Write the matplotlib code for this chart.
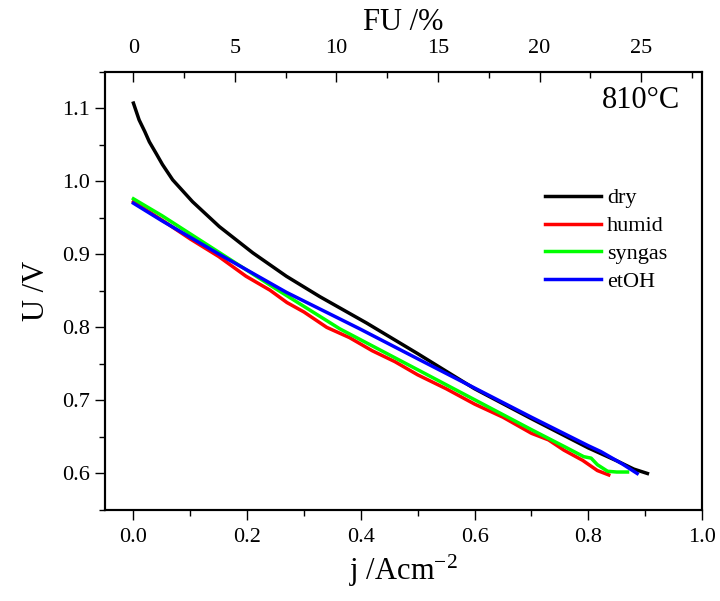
import matplotlib
matplotlib.use("Agg")
import matplotlib.pyplot as plt
from matplotlib.ticker import MultipleLocator

plt.rcParams["font.family"] = ["Liberation Serif", "DejaVu Serif"]
plt.rcParams["mathtext.default"] = "regular"

# current density j (A/cm2) and cell voltage U (V) per fuel
dry_j = [0.000, 0.010, 0.020, 0.028, 0.040, 0.051, 0.069, 0.104, 0.151, 0.210,
         0.269, 0.328, 0.410, 0.500, 0.600, 0.700, 0.800, 0.851, 0.880, 0.904]
dry_u = [1.107, 1.084, 1.068, 1.054, 1.038, 1.023, 1.002, 0.972, 0.938, 0.902,
         0.870, 0.842, 0.806, 0.764, 0.716, 0.675, 0.635, 0.617, 0.606, 0.600]

humid_j = [0.000, 0.050, 0.100, 0.150, 0.198, 0.240, 0.270, 0.300, 0.340, 0.380,
           0.420, 0.460, 0.500, 0.550, 0.600, 0.650, 0.700, 0.730, 0.757, 0.790,
           0.816, 0.836]
humid_u = [0.972, 0.947, 0.921, 0.897, 0.870, 0.851, 0.834, 0.821, 0.800, 0.786,
           0.768, 0.753, 0.735, 0.716, 0.695, 0.677, 0.655, 0.646, 0.632, 0.618,
           0.604, 0.598]

syngas_j = [0.000, 0.050, 0.100, 0.150, 0.250, 0.363, 0.500, 0.600, 0.700, 0.760,
            0.792, 0.805, 0.816, 0.834, 0.850, 0.869]
syngas_u = [0.976, 0.953, 0.928, 0.903, 0.853, 0.798, 0.742, 0.701, 0.660, 0.636,
            0.623, 0.621, 0.612, 0.603, 0.602, 0.602]

etoh_j = [0.000, 0.050, 0.151, 0.269, 0.398, 0.500, 0.600, 0.700, 0.800, 0.822,
          0.860, 0.886]
etoh_u = [0.970, 0.946, 0.900, 0.848, 0.798, 0.757, 0.717, 0.677, 0.638, 0.630,
          0.613, 0.600]

series = [
    ("dry", dry_j, dry_u, "#000000"),
    ("humid", humid_j, humid_u, "#ff0000"),
    ("syngas", syngas_j, syngas_u, "#00ff00"),
    ("etOH", etoh_j, etoh_u, "#0000ff"),
]

fu_per_j = 28.0  # fuel utilisation % per A/cm2
fu_ticks = [0, 5, 10, 15, 20, 25]

fig = plt.figure(figsize=(7.2, 6.01), dpi=100)
ax = fig.add_axes([105 / 720, 1 - 510 / 601, 597 / 720, 438.3 / 601])

for name, j, u, color in series:
    ax.plot(j, u, color=color, linewidth=2.5, label=name)

ax.set_xlim(-0.05, 1.0)
ax.set_ylim(0.55, 1.15)
ax.set_xticks([0.0, 0.2, 0.4, 0.6, 0.8, 1.0])
ax.set_xticklabels(["0.0", "0.2", "0.4", "0.6", "0.8", "1.0"])
ax.xaxis.set_minor_locator(MultipleLocator(0.1))
ax.yaxis.set_major_locator(MultipleLocator(0.1))
ax.yaxis.set_minor_locator(MultipleLocator(0.05))
ax.tick_params(which="both", direction="out", top=False, right=False,
               labelsize=16, width=1.0)
ax.tick_params(axis="x", pad=6)
ax.tick_params(axis="y", pad=4)
ax.tick_params(which="major", length=7)
ax.tick_params(which="minor", length=4)
ax.set_xlabel("j /Acm$^{-2}$", fontsize=22, labelpad=4)
ax.set_ylabel("U /V", fontsize=22, labelpad=8)
for spine in ax.spines.values():
    spine.set_linewidth(1.5)

ax2 = ax.twiny()
ax2.set_xlim(-0.05 * fu_per_j, 1.0 * fu_per_j)
ax2.set_xticks(fu_ticks)
ax2.xaxis.set_minor_locator(MultipleLocator(2.5))
ax2.tick_params(which="both", direction="in", labelsize=16, width=1.0, pad=10)
ax2.tick_params(which="major", length=7)
ax2.tick_params(which="minor", length=4)
ax2.set_xlabel("FU /%", fontsize=22, labelpad=6)
for spine in ax2.spines.values():
    spine.set_linewidth(1.5)

ax.text(0.897, 0.935, "810°C", transform=ax.transAxes, fontsize=22,
        ha="center", va="center")

ax.legend(loc="upper left", bbox_to_anchor=(0.737, 0.735), frameon=False,
          fontsize=16, handlelength=2.5, handletextpad=0.3, labelspacing=0.33,
          borderpad=0, borderaxespad=0)

fig.savefig("out.png", dpi=100)
